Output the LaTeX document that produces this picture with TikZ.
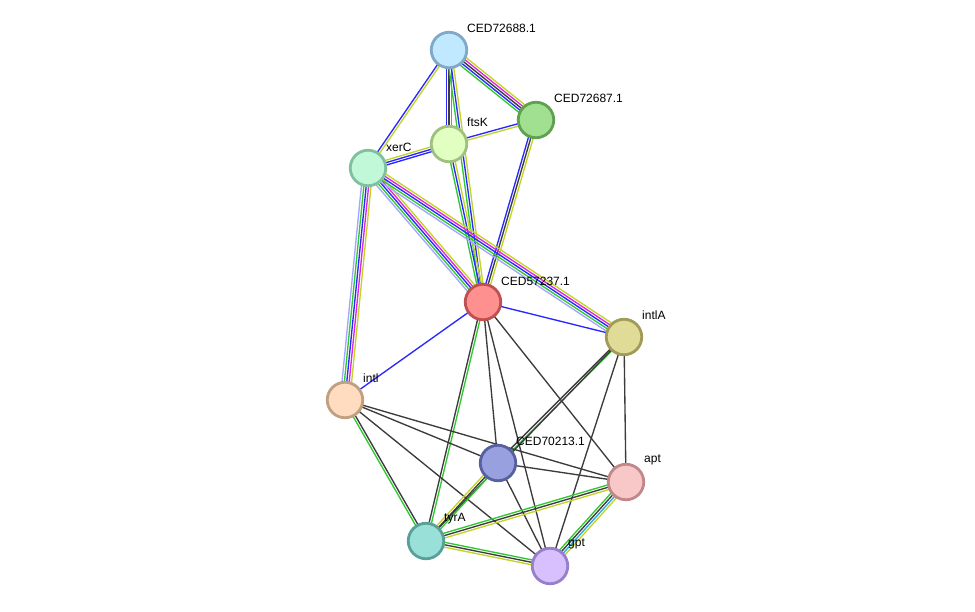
\documentclass[tikz,border=0pt]{standalone}
\usepackage{fontspec}
\setmainfont{Liberation Sans}
\usetikzlibrary{calc,backgrounds}
\definecolor{cgreen}{RGB}{50,200,50}
\definecolor{cblue}{RGB}{40,40,255}
\definecolor{cyel}{RGB}{195,212,40}
\definecolor{cmag}{RGB}{220,40,220}
\definecolor{cblk}{RGB}{60,60,60}
\definecolor{clav}{RGB}{165,165,255}
\definecolor{ccyan}{RGB}{40,170,225}
\tikzset{
  prot/.style={circle, draw, line width=2.8pt, minimum size=35.5pt, inner sep=0pt},
  lab/.style={anchor=west, font=\fontsize{12}{14}\selectfont, inner sep=0pt, text=black},
  edge/.style={line width=1.35pt},
}
\newcommand\bSp{2.4}
\newcommand\bundle[3]{%
  \foreach \c [count=\k] in {#3} {\xdef\bN{\k}}%
  \foreach \c [count=\k] in {#3} {%
    \pgfmathsetmacro\bOff{(\k-(\bN+1)/2)*\bSp}%
    \draw[edge,draw=\c] ($(#1.center)!\bOff pt!90:(#2.center)$) -- ($(#2.center)!\bOff pt!-90:(#1.center)$);
  }%
}
\begin{document}
\begin{tikzpicture}[x=1pt,y=1pt]
\useasboundingbox (0,0) rectangle (975,-611);
% proteins
\node[prot, fill={rgb,255:red,192;green,232;blue,255}, draw={rgb,255:red,128;green,168;blue,200}] (n72688) at (449,-50) {};
\node[prot, fill={rgb,255:red,160;green,224;blue,144}, draw={rgb,255:red,96;green,160;blue,80}] (n72687) at (536,-120) {};
\node[prot, fill={rgb,255:red,224;green,255;blue,192}, draw={rgb,255:red,160;green,192;blue,128}] (ftsK) at (449,-144) {};
\node[prot, fill={rgb,255:red,192;green,248;blue,216}, draw={rgb,255:red,128;green,192;blue,160}] (xerC) at (368,-168) {};
\node[prot, fill={rgb,255:red,255;green,144;blue,144}, draw={rgb,255:red,192;green,80;blue,80}] (n57237) at (483,-302) {};
\node[prot, fill={rgb,255:red,224;green,220;blue,152}, draw={rgb,255:red,160;green,156;blue,88}] (intlA) at (624,-337) {};
\node[prot, fill={rgb,255:red,255;green,220;blue,192}, draw={rgb,255:red,192;green,160;blue,128}] (intl) at (345,-400) {};
\node[prot, fill={rgb,255:red,152;green,160;blue,224}, draw={rgb,255:red,88;green,96;blue,160}] (n70213) at (498,-463) {};
\node[prot, fill={rgb,255:red,248;green,200;blue,200}, draw={rgb,255:red,192;green,136;blue,136}] (apt) at (626,-482) {};
\node[prot, fill={rgb,255:red,152;green,224;blue,216}, draw={rgb,255:red,88;green,160;blue,152}] (tyrA) at (426,-541) {};
\node[prot, fill={rgb,255:red,216;green,192;blue,255}, draw={rgb,255:red,152;green,128;blue,200}] (gpt) at (550,-566) {};
% labels
\node[lab] (l72688) at (467,-28) {CED72688.1};
\node[lab] (l72687) at (554,-98) {CED72687.1};
\node[lab] (lftsK) at (467,-122) {ftsK};
\node[lab] (lxerC) at (386,-147) {xerC};
\node[lab] (l57237) at (501,-281) {CED57237.1};
\node[lab] (lintlA) at (642,-315) {intlA};
\node[lab] (lintl) at (363,-378) {intl};
\node[lab] (l70213) at (516,-441) {CED70213.1};
\node[lab] (lapt) at (644,-460) {apt};
\node[lab] (ltyrA) at (444,-519) {tyrA};
\node[lab] (lgpt) at (568,-544) {gpt};
% edges
\begin{pgfonlayer}{background}
\bundle{n72688}{n72687}{cgreen,cblue,cblk,cmag,cyel}
\bundle{n72688}{xerC}{cblue,cyel}
\bundle{n72688}{ftsK}{cblue,cblk,cgreen}
\bundle{n72688}{n57237}{cgreen,cblue,cyel}
\bundle{n72687}{ftsK}{cblue,cyel}
\bundle{xerC}{ftsK}{cblue,cblue,cyel}
\bundle{n72687}{n57237}{cblue,cblk,cyel}
\bundle{ftsK}{n57237}{cgreen,cblue,cyel}
\bundle{xerC}{n57237}{clav,cgreen,cblue,cmag,cyel}
\bundle{xerC}{intlA}{clav,cgreen,cblue,cmag,cyel}
\bundle{xerC}{intl}{clav,cgreen,cblue,cmag,cyel}
\bundle{n57237}{intlA}{cblue}
\bundle{n57237}{intl}{cblue}
\bundle{n57237}{tyrA}{cblk,cgreen}
\bundle{n57237}{n70213}{cblk}
\bundle{n57237}{gpt}{cblk}
\bundle{n57237}{apt}{cblk}
\bundle{intlA}{n70213}{cblk,cgreen}
\bundle{intlA}{tyrA}{cblk}
\bundle{intlA}{apt}{cblk}
\bundle{intlA}{gpt}{cblk}
\bundle{intl}{n70213}{cblk}
\bundle{intl}{apt}{cblk}
\bundle{intl}{gpt}{cblk}
\bundle{intl}{tyrA}{cgreen,cblk}
\bundle{n70213}{apt}{cblk}
\bundle{n70213}{gpt}{cblk}
\bundle{n70213}{tyrA}{cyel,cblk,cgreen}
\bundle{tyrA}{apt}{cyel,cblk,cgreen}
\bundle{tyrA}{gpt}{cyel,cblk,cgreen}
\bundle{apt}{gpt}{cgreen,cblk,ccyan,cyel}
\end{pgfonlayer}
\end{tikzpicture}
\end{document}
